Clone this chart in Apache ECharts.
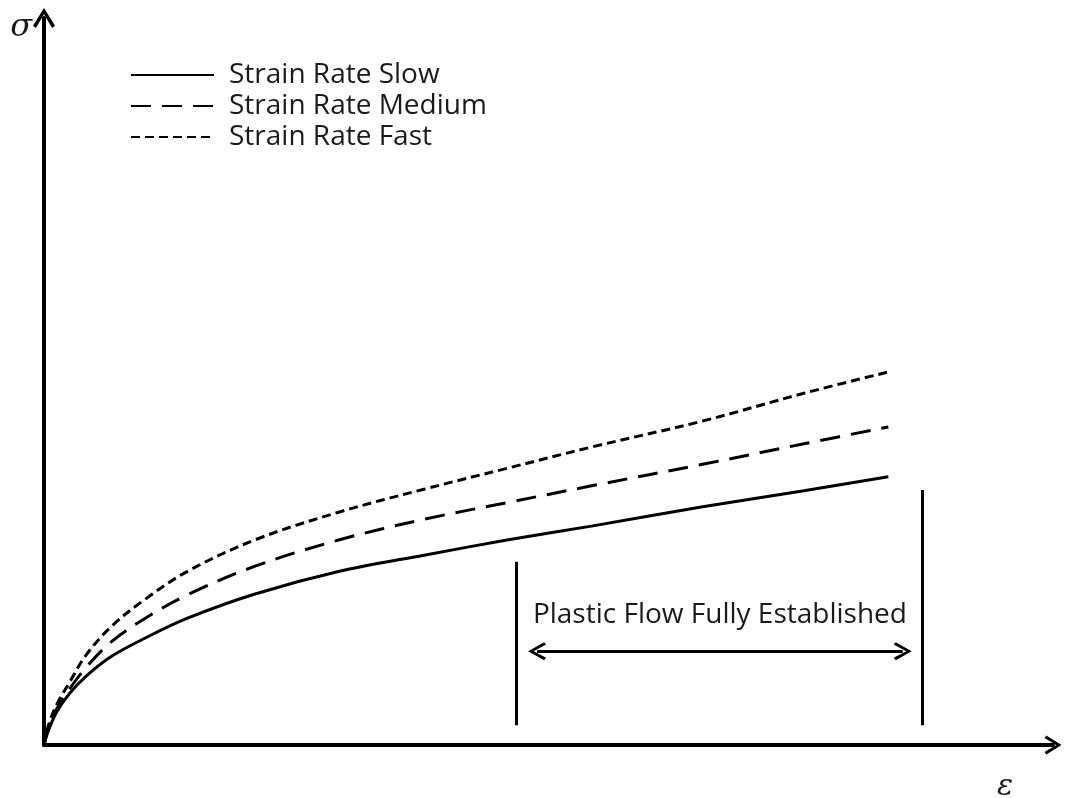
<!DOCTYPE html>
<html>
<head>
<meta charset="utf-8">
<script src="https://cdn.jsdelivr.net/npm/echarts@6/dist/echarts.min.js"></script>
<style>
  html, body { margin: 0; padding: 0; background: #fff; }
  #chart { width: 1065px; height: 798px; }
</style>
</head>
<body>
<div id="chart"></div>
<script>
// strain (x) and stress (y), arbitrary units
const strain = [0, 0.005, 0.015, 0.03, 0.05, 0.08, 0.12, 0.17, 0.25, 0.35, 0.45, 0.55, 0.65, 0.78, 0.9, 1.0]
const stressSlow = [0, 0.019, 0.045, 0.070, 0.094, 0.121, 0.146, 0.173, 0.206, 0.237, 0.259, 0.280, 0.299, 0.325, 0.347, 0.366]
const stressMedium = [0, 0.023, 0.049, 0.076, 0.106, 0.141, 0.173, 0.205, 0.244, 0.280, 0.308, 0.331, 0.354, 0.383, 0.411, 0.434]
const stressFast = [0, 0.026, 0.055, 0.085, 0.123, 0.162, 0.199, 0.237, 0.280, 0.318, 0.349, 0.378, 0.407, 0.442, 0.480, 0.509]
const seriesNames = ['Strain Rate Slow', 'Strain Rate Medium', 'Strain Rate Fast']

// plastic flow region markers
const plasticStart = 0.559
const plasticEnd = 1.040
const plasticStartTop = 0.250
const plasticEndTop = 0.348
const markerBottom = 0.027
const arrowFrom = 0.584
const arrowTo = 1.017
const arrowLevel = 0.128
const plasticLabel = 'Plastic Flow Fully Established'

const chevron = 'path://M10,0 L20,16 L17.4,18 L10,5.5 L2.6,18 L0,16 Z'
const font = 'Open Sans'

const pairs = (ys) => strain.map((x, i) => [x, ys[i]])

const chart = echarts.init(document.getElementById('chart'))

const curve = (name, ys, dash) => ({
  name,
  type: 'line',
  data: pairs(ys),
  smooth: 0.35,
  symbol: 'none',
  lineStyle: { color: '#000', width: 3, type: dash },
  itemStyle: { color: '#000' }
})

const slow = curve(seriesNames[0], stressSlow, 'solid')
slow.markLine = {
  silent: true,
  symbol: 'none',
  label: { show: false },
  lineStyle: { color: '#000', width: 3, type: 'solid' },
  data: [
    [{ coord: [plasticStart, markerBottom] }, { coord: [plasticStart, plasticStartTop] }],
    [{ coord: [plasticEnd, markerBottom] }, { coord: [plasticEnd, plasticEndTop] }]
  ]
}

const fast = curve(seriesNames[2], stressFast, [9, 5])
fast.markLine = {
  silent: true,
  symbol: [chevron, chevron],
  symbolSize: 18,
  lineStyle: { color: '#000', width: 3, type: 'solid' },
  label: {
    show: true,
    position: 'insideMiddleTop',
    distance: 22,
    formatter: plasticLabel,
    fontFamily: font,
    fontSize: 28,
    color: '#1a1a1a'
  },
  data: [
    [{ coord: [arrowFrom, arrowLevel] }, { coord: [arrowTo, arrowLevel] }]
  ]
}

chart.setOption({
  animation: false,
  backgroundColor: '#fff',
  grid: { left: 44, right: 12, top: 18, bottom: 53, outerBoundsMode: 'none' },
  legend: {
    orient: 'vertical',
    left: 125,
    top: 56,
    itemWidth: 83,
    itemHeight: 14,
    itemGap: 3,
    data: seriesNames,
    itemStyle: { opacity: 0 },
    textStyle: { fontFamily: font, fontSize: 28, color: '#1a1a1a', padding: [0, 0, 0, 10] }
  },
  xAxis: {
    type: 'value',
    min: 0,
    max: 1.195,
    name: 'ε',
    nameLocation: 'end',
    nameGap: -48,
    nameTextStyle: {
      fontFamily: 'DejaVu Serif', fontStyle: 'italic', fontSize: 30, color: '#1a1a1a',
      align: 'center', verticalAlign: 'top', padding: [27, 0, 0, 0]
    },
    axisLine: {
      lineStyle: { color: '#000', width: 4 },
      symbol: ['none', chevron],
      symbolSize: [24, 17]
    },
    axisTick: { show: false },
    axisLabel: { show: false },
    splitLine: { show: false }
  },
  yAxis: {
    type: 'value',
    min: 0,
    max: 0.992,
    name: 'σ',
    nameLocation: 'end',
    nameGap: -10,
    nameTextStyle: {
      fontFamily: 'DejaVu Serif', fontStyle: 'italic', fontSize: 32, color: '#1a1a1a',
      align: 'right', verticalAlign: 'middle', padding: [0, 12, 0, 0]
    },
    axisLine: {
      lineStyle: { color: '#000', width: 4 },
      symbol: ['none', chevron],
      symbolSize: [22, 20]
    },
    axisTick: { show: false },
    axisLabel: { show: false },
    splitLine: { show: false }
  },
  series: [
    slow,
    curve(seriesNames[1], stressMedium, [20, 11]),
    fast
  ]
})
</script>
</body>
</html>
